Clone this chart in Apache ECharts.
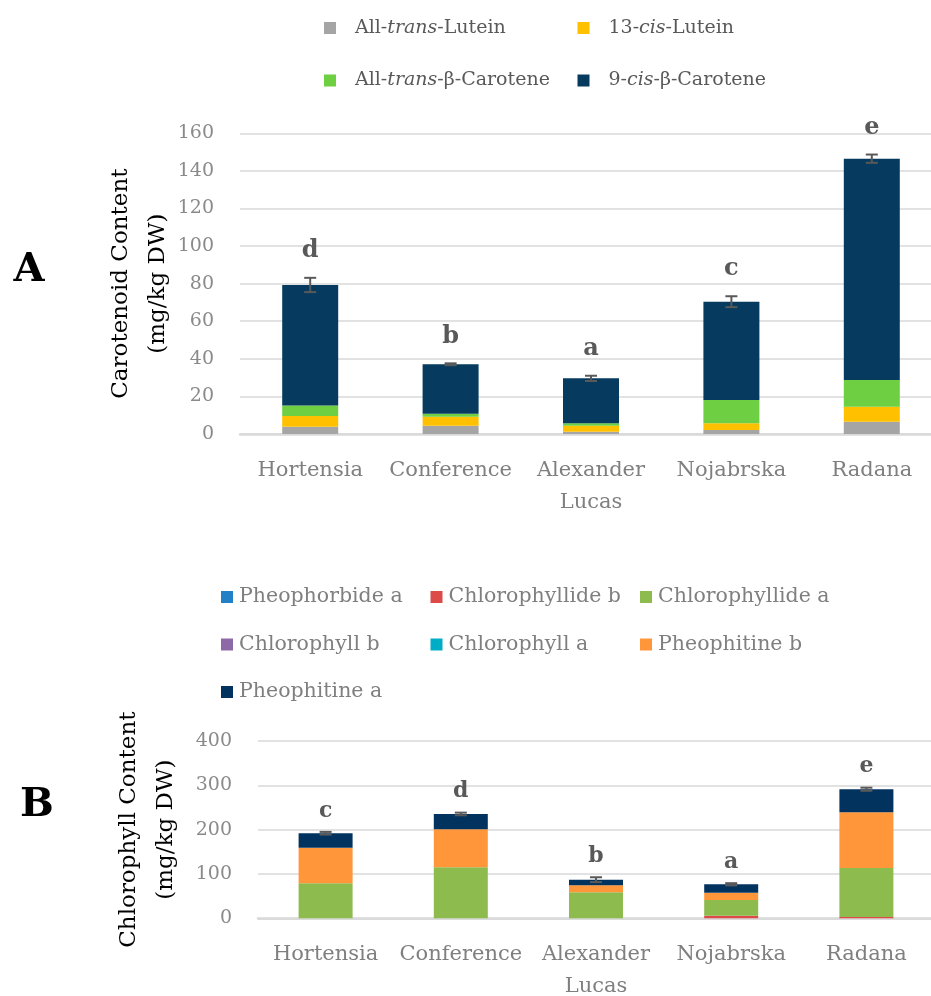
<!DOCTYPE html>
<html>
<head>
<meta charset="utf-8">
<script src="https://cdn.jsdelivr.net/npm/echarts@6/dist/echarts.min.js"></script>
<style>
  html, body { margin: 0; padding: 0; background: #fff; }
  #chart { width: 931px; height: 996px; }
</style>
</head>
<body>
<div id="chart"></div>
<script>
// Cultivars shown on both panels
const cultivars = ['Hortensia', 'Conference', 'Alexander Lucas', 'Nojabrska', 'Radana'];

// Panel A: carotenoids (mg/kg DW), stacked bottom to top
const carotenoidNames = ['All-trans-Lutein', '13-cis-Lutein', 'All-trans-β-Carotene', '9-cis-β-Carotene'];
const allTransLutein = [3.9, 4.4, 1.2, 2.1, 6.5];
const cis13Lutein = [5.7, 4.8, 3.2, 3.6, 8.0];
const allTransBetaCarotene = [5.6, 1.6, 1.3, 12.4, 14.2];
const cis9BetaCarotene = [64.1, 26.3, 23.9, 52.3, 117.8];
const carotenoidError = [3.8, 0.5, 1.4, 2.9, 2.2];
const carotenoidGroups = ['d', 'b', 'a', 'c', 'e'];

// Panel B: chlorophylls (mg/kg DW), stacked bottom to top
const chlorophyllNames = ['Pheophorbide a', 'Chlorophyllide b', 'Chlorophyllide a', 'Chlorophyll b', 'Chlorophyll a', 'Pheophitine b', 'Pheophitine a'];
const pheophorbideA = [0, 0, 0, 0, 0];
const chlorophyllideB = [0, 0, 0, 6.0, 3.0];
const chlorophyllideA = [79.0, 115.1, 58.7, 35.3, 110.5];
const chlorophyllB = [0, 0, 0, 0, 0];
const chlorophyllA = [0, 0, 0, 0, 0];
const pheophitineB = [80.4, 85.8, 15.8, 16.5, 125.8];
const pheophitineA = [32.5, 34.5, 12.6, 18.9, 51.9];
const chlorophyllError = [3.0, 3.0, 5.5, 2.5, 3.5];
const chlorophyllGroups = ['c', 'd', 'b', 'a', 'e'];

const carotenoidValues = [allTransLutein, cis13Lutein, allTransBetaCarotene, cis9BetaCarotene];
const chlorophyllValues = [pheophorbideA, chlorophyllideB, chlorophyllideA, chlorophyllB, chlorophyllA, pheophitineB, pheophitineA];

const carotenoidColors = ['#A5A5A5', '#FFC000', '#6DCF41', '#063B5F'];
const chlorophyllColors = ['#2281C6', '#DD4B48', '#8DBB4E', '#8E69A8', '#00ADC6', '#FF963A', '#02335F'];

const FONT = 'DejaVu Serif';

function stackTotals(parts) {
  return parts[0].map((_, i) => parts.reduce((s, arr) => s + arr[i], 0));
}

// Error whiskers plus the significance letter above each stack
function errorSeries(name, axisIdx, totals, errors, letters, letterGap, letterSize) {
  return {
    name: name,
    type: 'custom',
    xAxisIndex: axisIdx,
    yAxisIndex: axisIdx,
    z: 10,
    silent: true,
    data: totals.map((t, i) => [i, t, errors[i]]),
    renderItem: function (params, api) {
      const x = api.value(0), top = api.value(1), err = api.value(2);
      const hi = api.coord([x, top + err]);
      const lo = api.coord([x, top - err]);
      const cap = 6;
      const stroke = { stroke: '#595959', lineWidth: 2 };
      return {
        type: 'group',
        children: [
          { type: 'line', shape: { x1: hi[0], y1: hi[1], x2: lo[0], y2: lo[1] }, style: stroke },
          { type: 'line', shape: { x1: hi[0] - cap, y1: hi[1], x2: hi[0] + cap, y2: hi[1] }, style: stroke },
          { type: 'line', shape: { x1: lo[0] - cap, y1: lo[1], x2: lo[0] + cap, y2: lo[1] }, style: stroke },
          {
            type: 'text',
            x: hi[0], y: hi[1] - letterGap,
            style: {
              text: letters[params.dataIndex],
              fontFamily: FONT, fontWeight: 'bold', fontSize: letterSize,
              fill: '#595959', align: 'center', verticalAlign: 'middle'
            }
          }
        ]
      };
    }
  };
}

function italicParts(name) {
  return '{n|' + name.replace(/(trans|cis)/, '}{i|$1}{n|') + '}';
}

// One legend block per entry, laid out on a fixed column/row pitch
function legendBlocks(names, cols, x0, y0, colPitch, rowPitch, fontSize, color, textGap, rich) {
  return names.map((n, k) => {
    const col = k % cols, row = Math.floor(k / cols);
    const block = {
      data: [n],
      left: x0 + col * colPitch,
      top: y0 + row * rowPitch - 12,
      padding: 0,
      icon: 'rect',
      itemWidth: 12,
      itemHeight: 12,
      selectedMode: false,
      textStyle: {
        fontFamily: FONT, fontSize: fontSize, color: color,
        lineHeight: 24, padding: [0, 0, 0, textGap]
      }
    };
    if (rich) {
      block.formatter = italicParts;
      block.textStyle.rich = {
        n: { fontFamily: FONT, fontSize: fontSize, color: color, lineHeight: 24 },
        i: { fontFamily: FONT, fontSize: fontSize, color: color, fontStyle: 'italic', lineHeight: 24 }
      };
    }
    return block;
  });
}

function yAxisDef(gridIdx, max, interval, title, gap) {
  return {
    type: 'value', gridIndex: gridIdx, min: 0, max: max, interval: interval,
    name: title, nameLocation: 'middle', nameGap: gap, nameMoveOverlap: false,
    nameTextStyle: { fontFamily: FONT, fontSize: 23, color: '#000', lineHeight: 37 },
    axisLine: { show: false }, axisTick: { show: false },
    axisLabel: { fontFamily: FONT, fontSize: 19, color: '#8A8A8A', margin: 26 },
    splitLine: { lineStyle: { color: '#D9D9D9', width: 1.5 } }
  };
}

function xAxisDef(gridIdx, margin) {
  return {
    type: 'category', gridIndex: gridIdx, data: cultivars,
    axisLine: { lineStyle: { color: '#D9D9D9', width: 2.5 } },
    axisTick: { show: false },
    axisLabel: {
      fontFamily: FONT, fontSize: 21, color: '#7F7F7F', margin: margin, lineHeight: 32,
      interval: 0, formatter: v => v.replace(' ', '\n')
    }
  };
}

const series = [];
carotenoidNames.forEach((n, k) => series.push({
  name: n, type: 'bar', stack: 'carotenoids', xAxisIndex: 0, yAxisIndex: 0,
  barWidth: 56, data: carotenoidValues[k], itemStyle: { color: carotenoidColors[k] }
}));
chlorophyllNames.forEach((n, k) => series.push({
  name: n, type: 'bar', stack: 'chlorophylls', xAxisIndex: 1, yAxisIndex: 1,
  barWidth: 54, data: chlorophyllValues[k], itemStyle: { color: chlorophyllColors[k] }
}));
series.push(errorSeries('carotenoid-error', 0, stackTotals(carotenoidValues), carotenoidError, carotenoidGroups, 27, 24));
series.push(errorSeries('chlorophyll-error', 1, stackTotals(chlorophyllValues), chlorophyllError, chlorophyllGroups, 21, 22));

const chart = echarts.init(document.getElementById('chart'), null, { renderer: 'canvas' });
chart.setOption({
  animation: false,
  backgroundColor: '#fff',
  grid: [
    { left: 240, top: 133.3, width: 702, height: 300.7, outerBoundsMode: 'none' },
    { left: 258, top: 741, width: 676, height: 177.3, outerBoundsMode: 'none' }
  ],
  xAxis: [xAxisDef(0, 21), xAxisDef(1, 20)],
  yAxis: [
    yAxisDef(0, 160, 20, 'Carotenoid Content\n(mg/kg DW)', 63),
    yAxisDef(1, 400, 100, 'Chlorophyll Content\n(mg/kg DW)', 73)
  ],
  legend: [].concat(
    legendBlocks(carotenoidNames, 2, 324, 28, 253.5, 52.5, 19, '#595959', 14, true),
    legendBlocks(chlorophyllNames, 3, 221, 597, 209.5, 47.5, 20.5, '#7F7F7F', 1, false)
  ),
  graphic: [
    { type: 'text', x: 29, y: 271, style: { text: 'A', fontFamily: FONT, fontWeight: 'bold', fontSize: 40, fill: '#000', align: 'center', verticalAlign: 'middle' } },
    { type: 'text', x: 37, y: 806, style: { text: 'B', fontFamily: FONT, fontWeight: 'bold', fontSize: 40, fill: '#000', align: 'center', verticalAlign: 'middle' } }
  ],
  series: series
});
</script>
</body>
</html>
